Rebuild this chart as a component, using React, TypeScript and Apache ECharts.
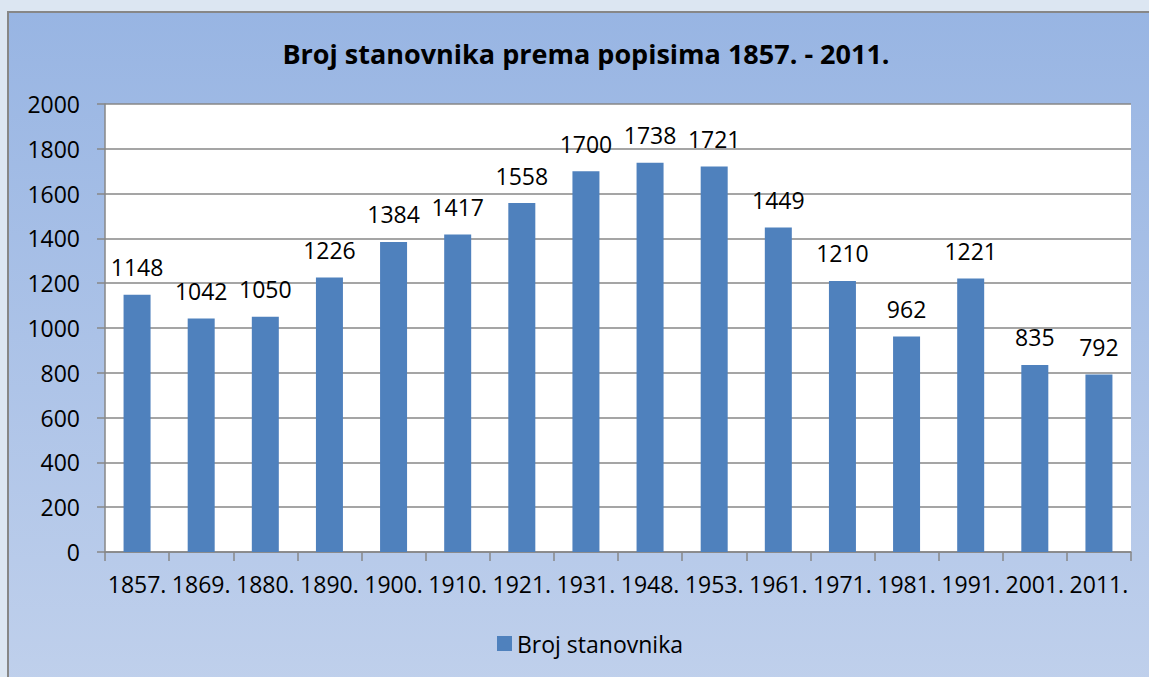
import React, { useEffect, useRef } from "react";
import * as echarts from "echarts";

const title = "Broj stanovnika prema popisima 1857. - 2011.";
const seriesName = "Broj stanovnika";
const years = ["1857.", "1869.", "1880.", "1890.", "1900.", "1910.", "1921.", "1931.", "1948.", "1953.", "1961.", "1971.", "1981.", "1991.", "2001.", "2011."];
const population = [1148, 1042, 1050, 1226, 1384, 1417, 1558, 1700, 1738, 1721, 1449, 1210, 962, 1221, 835, 792];
const yMin = 0;
const yMax = 2000;
const yStep = 200;

const FONT = "'Open Sans', sans-serif";

export default function App() {
  const ref = useRef<HTMLDivElement>(null);
  useEffect(() => {
    if (!ref.current) return;
    const chart = echarts.init(ref.current, null, { renderer: "svg" });
    chart.setOption({
      animation: false,
      backgroundColor: "#dce6f2",
      graphic: {
        elements: [
          {
            type: "rect",
            z: -10,
            silent: true,
            shape: { x: 8, y: 12, width: 1200, height: 700 },
            style: {
              fill: new echarts.graphic.LinearGradient(0, 0, 0, 1, [
                { offset: 0, color: "#98b5e3" },
                { offset: 1, color: "#c1d1ec" },
              ]),
              stroke: "#878787",
              lineWidth: 2,
            },
          },
        ],
      },
      title: {
        text: title,
        left: 581,
        textAlign: "center",
        top: 35,
        textStyle: { fontFamily: FONT, fontSize: 27, fontWeight: "bold", color: "#000" },
      },
      legend: {
        data: [seriesName],
        left: 492,
        top: 627,
        itemWidth: 15,
        itemHeight: 15,
        itemGap: 7,
        icon: "rect",
        textStyle: { fontFamily: FONT, fontSize: 23, color: "#000" },
      },
      grid: {
        left: 105,
        right: 18,
        top: 104,
        bottom: 125,
        show: true,
        backgroundColor: "#ffffff",
        borderWidth: 0,
      },
      xAxis: {
        type: "category",
        data: years,
        axisLine: { show: true, lineStyle: { color: "#878787", width: 1.5 } },
        axisTick: { show: true, length: 9, lineStyle: { color: "#878787", width: 1.5 } },
        axisLabel: { fontFamily: FONT, fontSize: 23, color: "#000", margin: 20, interval: 0 },
      },
      yAxis: {
        type: "value",
        min: yMin,
        max: yMax,
        interval: yStep,
        axisLine: { show: true, lineStyle: { color: "#878787", width: 1.5 } },
        axisTick: { show: true, length: 8, lineStyle: { color: "#878787", width: 1.5 } },
        splitLine: { show: true, lineStyle: { color: "#878787", width: 1.5 } },
        axisLabel: {
          fontFamily: FONT,
          fontSize: 23,
          color: "#000",
          margin: 25,
          formatter: (v: number) => String(v),
        },
      },
      series: [
        {
          name: seriesName,
          type: "bar",
          data: population,
          barWidth: 27,
          itemStyle: { color: "#4f81bd" },
          label: {
            show: true,
            position: "top",
            distance: 16,
            fontFamily: FONT,
            fontSize: 23,
            color: "#000",
          },
        },
      ],
    });
    return () => chart.dispose();
  }, []);
  return (
    <div
      ref={ref}
      style={{ position: "absolute", left: 0, top: 0, width: 1149, height: 677 }}
    />
  );
}
